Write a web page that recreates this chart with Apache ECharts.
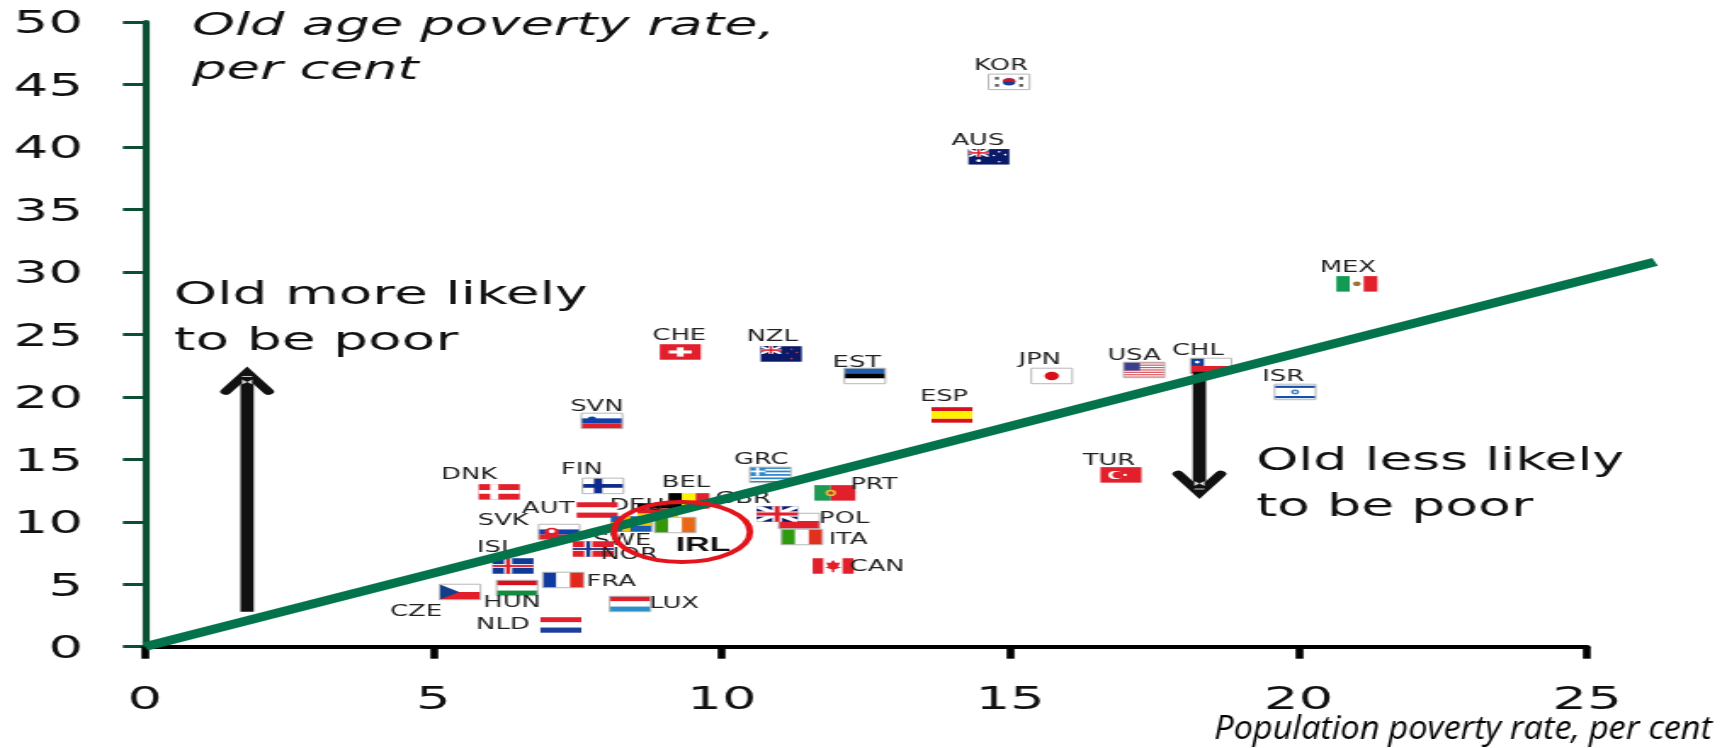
<!DOCTYPE html>
<html>
<head>
<meta charset="utf-8">
<style>
html,body{margin:0;padding:0;background:#fff;overflow:hidden;width:1727px;height:748px}
/* The reference is a horizontally stretched picture: the whole chart is stretched the same way. */
#chart{width:1016px;height:748px;transform-origin:0 0;transform:scaleX(1.69980)}
</style>
</head>
<body>
<div id="chart"></div>
<script src="https://cdn.jsdelivr.net/npm/echarts@6/dist/echarts.min.js"></script>
<script>
// ---------- data ----------
const countryCodes = ['DEU','DNK','FIN','AUT','BEL','GRC','PRT','POL','GBR','ITA','CAN','SWE','IRL','SVK','NOR','ISL','FRA','HUN','CZE','LUX','NLD','SVN','KOR','AUS','MEX','ESP','JPN','USA','CHL','ISR','TUR','CHE','NZL','EST'];
const populationPoverty = [8.89,6.14,7.94,7.84,9.43,10.84,11.96,11.34,10.96,11.39,11.93,8.43,9.19,7.18,7.77,6.38,7.25,6.45,5.46,8.41,7.21,7.92,14.98,14.63,21.01,13.99,15.72,17.32,18.48,19.94,16.92,9.28,11.03,12.48];
const oldAgePoverty = [10.86,12.39,12.87,10.94,11.67,13.75,12.31,10.06,10.62,8.78,6.46,9.82,9.74,9.18,7.82,6.46,5.34,4.70,4.38,3.42,1.74,18.07,45.21,39.21,29.04,18.55,21.67,22.15,22.47,20.39,13.75,23.59,23.43,21.67];
const equalityLineX = [0,26.18];
const equalityLineY = [0,30.8];
const xTicks = [0,5,10,15,20,25];
const yTicks = [0,5,10,15,20,25,30,35,40,45,50];
const upArrow = {x:[1.77,1.77], y:[2.8,22.35]};
const downArrow = {x:[18.28,18.28], y:[22.0,11.9]};
const irlCircle = {x:9.31, y:9.18};

// ---------- layout and style ----------
const K = 1727/1016;
const FLAG_W = 41/K, FLAG_H = 15.5;
const FONT = '"DejaVu Sans"';
// label offset from flag centre (reference pixels)
const labelOffset = {DEU:[-21,-6],DNK:[-30,-18],FIN:[-21,-17],AUT:[-49,-2],BEL:[-3,-19],GRC:[-9,-16],PRT:[39,-9],POL:[45,-3],GBR:[-34,-16],ITA:[46,2],CAN:[44,0],SWE:[-9,16],IRL:[28,20],SVK:[-56,-12],NOR:[36,5],ISL:[-17,-19],FRA:[48,1],HUN:[-5,14],CZE:[-44,19],LUX:[44,-1],NLD:[-58,-1],SVN:[-5,-15],KOR:[-8,-17],AUS:[-11,-17],MEX:[-9,-17],ESP:[-8,-19],JPN:[-12,-17],USA:[-10,-15],CHL:[-13,-16],ISR:[-12,-16],TUR:[-12,-15],CHE:[-1,-17],NZL:[-9,-18],EST:[-8,-14]};

const R='#e2202c',W='#ffffff',B='#0f3aa0',NAVY='#0a1a68',Y='#fff200',K0='#000000';
const rect=(x,y,w,h,c)=>['r',x,y,w,h,c];
const circ=(x,y,r,c)=>['c',x,y,r,c];
const poly=(pts,c)=>['p',pts,c];
const h3=(a,b,c)=>[rect(0,0,1,1/3,a),rect(0,1/3,1,1/3,b),rect(0,2/3,1,1/3,c)];
const v3=(a,b,c)=>[rect(0,0,1/3,1,a),rect(1/3,0,1/3,1,b),rect(2/3,0,1/3,1,c)];
const nordic=(bg,o,i)=>{const s=[rect(0,0,1,1,bg),rect(.28,0,.2,1,o),rect(0,.38,1,.24,o)];if(i)s.push(rect(.33,0,.1,1,i),rect(0,.44,1,.12,i));return s;};
const union=(x,y,w,h)=>[rect(x,y,w,h,NAVY),
  poly([[x,y],[x+w*.12,y],[x+w,y+h*.85],[x+w,y+h],[x+w*.88,y+h],[x,y+h*.15]],W),
  poly([[x+w,y],[x+w,y+h*.15],[x+w*.12,y+h],[x,y+h],[x,y+h*.85],[x+w*.88,y]],W),
  rect(x+w*.38,y,w*.24,h,W),rect(x,y+h*.33,w,h*.34,W),
  rect(x+w*.44,y,w*.12,h,R),rect(x,y+h*.4,w,h*.2,R)];
const usa=()=>{const s=[rect(0,0,1,1,W)];for(let i=0;i<7;i++)s.push(rect(0,i*2/13,1,1/13,'#d8555f'));s.push(rect(0,0,.4,7/13,'#3c3f8f'));return s;};
const grc=()=>{const s=[rect(0,0,1,1,W)];for(let i=0;i<5;i++)s.push(rect(0,i*2/9,1,1/9,'#2f86c8'));s.push(rect(0,0,.38,5/9,'#2f86c8'),rect(.15,0,.08,5/9,W),rect(0,.22,.38,.11,W));return s;};
const flagArt={
 DEU:h3(K0,'#dd1c24','#ffce00'),DNK:nordic(R,W),FIN:nordic(W,'#0d2a8c'),AUT:h3(R,W,R),BEL:v3(K0,Y,R),GRC:grc(),
 PRT:[rect(0,0,.4,1,'#1d9a54'),rect(.4,0,.6,1,R),circ(.4,.5,.2,'#e8c030'),circ(.4,.5,.1,'#b04040')],
 POL:[rect(0,0,1,.5,W),rect(0,.5,1,.5,R)],GBR:union(0,0,1,1),ITA:v3('#2e9a10',W,'#e0301e'),
 CAN:[rect(0,0,.27,1,R),rect(.27,0,.46,1,W),rect(.73,0,.27,1,R),poly([[.5,.12],[.57,.3],[.67,.28],[.62,.55],[.7,.58],[.53,.72],[.53,.9],[.47,.9],[.47,.72],[.3,.58],[.38,.55],[.33,.28],[.43,.3]],R)],
 SWE:nordic('#1a5db0','#f5c400'),IRL:v3('#35960c',W,'#e8681a'),
 SVK:[...h3(W,'#1040a8',R),circ(.32,.5,.28,R),circ(.32,.45,.12,W)],
 NOR:nordic(R,W,'#1a3a90'),ISL:nordic('#0f3a98',W,R),FRA:v3(B,W,'#e0281e'),HUN:h3('#d8101c',W,'#128a40'),
 CZE:[rect(0,0,1,.5,W),rect(0,.5,1,.5,R),poly([[0,0],[.48,.5],[0,1]],'#123f88')],
 LUX:h3(R,W,'#2e90c8'),NLD:h3(R,W,'#1c3f9c'),SVN:[...h3(W,'#1040a8',R),circ(.26,.38,.16,'#1040a8')],
 KOR:[rect(0,0,1,1,W),circ(.5,.5,.24,'#1a3a90'),['s',.5,.5,.24,'#d8101c'],rect(.16,.18,.09,.18,'#555'),rect(.75,.18,.09,.18,'#555'),rect(.16,.64,.09,.18,'#555'),rect(.75,.64,.09,.18,'#555')],
 AUS:[rect(0,0,1,1,NAVY),...union(0,0,.5,.5),circ(.25,.75,.09,W),circ(.75,.18,.05,W),circ(.75,.82,.05,W),circ(.62,.42,.05,W),circ(.9,.36,.05,W)],
 MEX:[...v3('#129a52',W,'#e2202c'),circ(.5,.5,.15,'#a07030')],
 ESP:[rect(0,0,1,.25,'#d8101c'),rect(0,.25,1,.5,Y),rect(0,.75,1,.25,'#d8101c')],
 JPN:[rect(0,0,1,1,W),circ(.5,.5,.27,'#d8101c')],USA:usa(),
 CHL:[rect(0,0,1,.5,W),rect(0,.5,1,.5,R),rect(0,0,.33,.5,'#123f98'),circ(.165,.25,.09,W)],
 ISR:[rect(0,0,1,1,W),rect(0,.1,1,.14,'#1450a8'),rect(0,.76,1,.14,'#1450a8'),circ(.5,.5,.16,'#4a80c8'),circ(.5,.5,.06,W)],
 TUR:[rect(0,0,1,1,R),circ(.36,.5,.26,W),circ(.42,.5,.2,R),circ(.6,.5,.07,W)],
 CHE:[rect(0,0,1,1,R),rect(.42,.2,.16,.6,W),rect(.22,.4,.56,.2,W)],
 NZL:[rect(0,0,1,1,NAVY),...union(0,0,.5,.5),circ(.75,.2,.05,'#d04050'),circ(.75,.8,.05,'#d04050'),circ(.65,.45,.05,'#d04050'),circ(.88,.4,.05,'#d04050')],
 EST:h3('#1f5fb0',K0,W)
};
const bordered={FIN:1,SVK:1,KOR:1,JPN:1,POL:1,CHL:1,EST:1,SVN:1,ISR:1,HUN:1,ITA:1,FRA:1,LUX:1,GRC:1,CZE:1,USA:1,IRL:1};

function renderFlag(params, api){
  const idx = api.value(2), code = countryCodes[idx];
  const c = api.coord([api.value(0), api.value(1)]);
  const x0 = c[0]-FLAG_W/2, y0 = c[1]-FLAG_H/2;
  const kids = flagArt[code].map(p=>{
    if(p[0]==='r') return {type:'rect',shape:{x:x0+p[1]*FLAG_W,y:y0+p[2]*FLAG_H,width:p[3]*FLAG_W,height:p[4]*FLAG_H},style:{fill:p[5]}};
    if(p[0]==='c') return {type:'circle',shape:{cx:x0+p[1]*FLAG_W,cy:y0+p[2]*FLAG_H,r:p[3]*FLAG_H},style:{fill:p[4]}};
    if(p[0]==='s') return {type:'sector',shape:{cx:x0+p[1]*FLAG_W,cy:y0+p[2]*FLAG_H,r:p[3]*FLAG_H,startAngle:Math.PI,endAngle:2*Math.PI},style:{fill:p[4]}};
    return {type:'polygon',shape:{points:p[1].map(q=>[x0+q[0]*FLAG_W,y0+q[1]*FLAG_H])},style:{fill:p[2]}};
  });
  if(bordered[code]) kids.push({type:'rect',shape:{x:x0,y:y0,width:FLAG_W,height:FLAG_H},style:{fill:'none',stroke:'#b8b8b8',lineWidth:1}});
  const o = labelOffset[code];
  kids.push({type:'text',x:c[0]+o[0]/K,y:c[1]+o[1]+(code==='IRL'?0:1.5),style:{text:code,fill:code==='IRL'?'#111':'#222',
    font:(code==='IRL'?'bold 20px "Liberation Sans"':'15.2px '+FONT),textAlign:'center',textVerticalAlign:'middle'}});
  return {type:'group',children:kids};
}
function renderArrow(params, api){
  const a = api.coord([api.value(0),api.value(1)]), b = api.coord([api.value(2),api.value(3)]);
  const dir = b[1]<a[1] ? 1 : -1;   // +1 when the arrow points up
  return {type:'group',children:[
    {type:'line',shape:{x1:a[0],y1:a[1],x2:b[0],y2:b[1]+dir*6},style:{stroke:'#111',lineWidth:7.8}},
    {type:'polyline',shape:{points:[[b[0]-12.5,b[1]+dir*24],[b[0],b[1]+dir*5],[b[0]+12.5,b[1]+dir*24]]},
      style:{fill:'none',stroke:'#111',lineWidth:6.5,lineCap:'round',lineJoin:'miter'}},
    {type:'rect',shape:{x:b[0]-3,y:b[1]+dir*9-0.5,width:6,height:1},style:{fill:'#ccc'}},
    {type:'polygon',shape:{points:[[b[0]-3,b[1]+dir*12],[b[0],b[1]+dir*14.5],[b[0]+3,b[1]+dir*12],[b[0]+3,b[1]+dir*17],[b[0],b[1]+dir*14.5],[b[0]-3,b[1]+dir*17]]},style:{fill:'#ddd'}}
  ]};
}
function renderTrendLine(params, api){
  const p = [0,1].map(i=>api.coord([equalityLineX[i],equalityLineY[i]]));
  return {type:'line',shape:{x1:p[0][0],y1:p[0][1],x2:p[1][0],y2:p[1][1]},style:{stroke:'#03734c',lineWidth:8.4}};
}
function renderEllipse(params, api){
  const c = api.coord([api.value(0),api.value(1)]);
  return {type:'ellipse',shape:{cx:c[0],cy:c[1],rx:68/K,ry:30},style:{fill:'none',stroke:'#e3141b',lineWidth:3.9}};
}
const bigText=(s,x,y,extra)=>({type:'text',x:x/K,y:y,style:Object.assign({text:s,font:'32px '+FONT,fill:'#111',lineHeight:47,textVerticalAlign:'top'},extra||{})});

const chart = echarts.init(document.getElementById('chart'),null,{renderer:'canvas'});
chart.setOption({
  animation:false,
  backgroundColor:'#fff',
  grid:{left:145/K,right:(1727-1587)/K,top:22,bottom:101.3,containLabel:false},
  xAxis:{type:'value',min:0,max:25,interval:5,
    axisLine:{show:true,onZero:false,lineStyle:{color:'#000',width:4}},
    axisTick:{show:true,length:12,lineStyle:{color:'#000',width:4.6}},
    axisLabel:{margin:38,fontFamily:FONT,fontSize:32,color:'#111',customValues:xTicks},
    splitLine:{show:false}},
  yAxis:{type:'value',min:0,max:50,interval:5,
    axisLine:{show:true,onZero:false,lineStyle:{color:'#0b4f35',width:4.2}},
    axisTick:{show:true,length:13,lineStyle:{color:'#0b4f35',width:3}},
    axisLabel:{margin:36.5,verticalAlign:'top',lineHeight:32,padding:[-13,0,0,0],fontFamily:FONT,fontSize:32,color:'#111',customValues:yTicks},
    splitLine:{show:false}},
  series:[
    {type:'custom',name:'countries',z:2,renderItem:renderFlag,encode:{x:0,y:1},
     data:countryCodes.map((c,i)=>[populationPoverty[i],oldAgePoverty[i],i]),silent:true},
    {type:'custom',name:'arrows',z:3,renderItem:renderArrow,silent:true,
     encode:{x:[0,2],y:[1,3]},
     data:[[upArrow.x[0],upArrow.y[0],upArrow.x[1],upArrow.y[1]],[downArrow.x[0],downArrow.y[0],downArrow.x[1],downArrow.y[1]]]},
    {type:'custom',name:'equal poverty',z:4,silent:true,renderItem:renderTrendLine,encode:{x:0,y:1},
     data:[[equalityLineX[0],equalityLineY[0]]]},
    {type:'custom',name:'Ireland',z:5,renderItem:renderEllipse,silent:true,encode:{x:0,y:1},
     data:[[irlCircle.x,irlCircle.y]]}
  ],
  graphic:[
    bigText('Old age poverty rate,\nper cent',192,5,{font:'italic 32px '+FONT,lineHeight:44}),
    bigText('Old more likely\nto be poor',174,273,{font:'32.4px '+FONT,lineHeight:46}),
    bigText('Old less likely\nto be poor',1256,439,{font:'31.6px '+FONT,lineHeight:46}),
    {type:'text',x:1214/K,y:713,scaleX:1.04/K,style:{text:'Population poverty rate, per cent',font:'italic 33px "Open Sans"',fill:'#000',textVerticalAlign:'top'}}
  ]
});
</script>
</body>
</html>
